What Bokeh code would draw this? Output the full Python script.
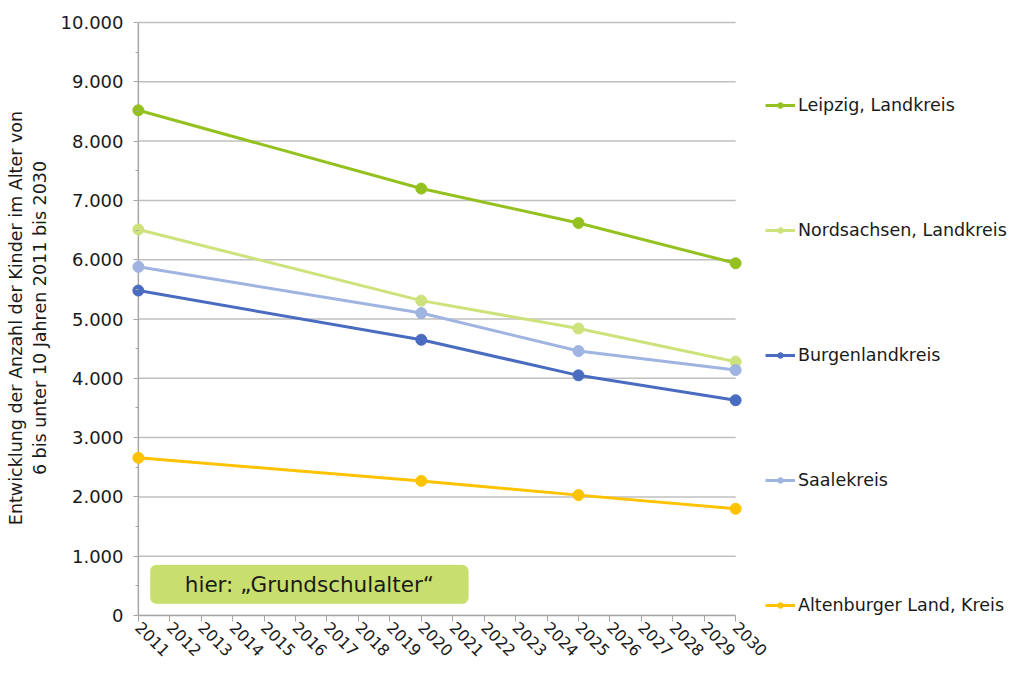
import math
from bokeh.plotting import figure
from bokeh.models import (Range1d, FixedTicker, CustomJSTickFormatter, Legend, LegendItem,
                          BoxAnnotation, Label)
from bokeh.embed import file_html
from bokeh.resources import INLINE

years_all = list(range(2011, 2031))
years = [2011, 2020, 2025, 2030]
series_names = ["Leipzig, Landkreis", "Nordsachsen, Landkreis", "Burgenlandkreis",
                "Saalekreis", "Altenburger Land, Kreis"]
leipzig = [8520, 7200, 6620, 5940]
nordsachsen = [6510, 5310, 4840, 4280]
burgenland = [5480, 4650, 4050, 3630]
saalekreis = [5880, 5100, 4460, 4140]
altenburg = [2660, 2270, 2030, 1800]
values = [leipzig, nordsachsen, burgenland, saalekreis, altenburg]
colors = ["#94c11f", "#cde27a", "#4a6cc0", "#9fb4e0", "#fdc300"]
y_ticks = list(range(0, 10001, 1000))
y_minor = list(range(500, 10000, 1000))
annotation_text = "hier: \u201eGrundschulalter\u201c"
y_label = "Entwicklung der Anzahl der Kinder im Alter von\n6 bis unter 10 Jahren 2011 bis 2030"

p = figure(frame_width=613, frame_height=595, output_backend="svg", toolbar_location=None,
           x_range=Range1d(2010.75, 2030.25), y_range=Range1d(0, 10034),
           min_border_left=130, min_border_right=267, min_border_top=20, min_border_bottom=58)
p.outline_line_color = None
p.xgrid.grid_line_color = None
p.ygrid.grid_line_color = None

# horizontal gridlines and y-axis line limited to the year span
p.segment(x0=years_all[0], x1=years_all[-1], y0=y_ticks, y1=y_ticks,
          line_color="#bfbfbf", line_width=1.5, level="underlay")
p.segment(x0=[years_all[0]], x1=[years_all[0]], y0=[y_ticks[0]], y1=[y_ticks[-1]],
          line_color="#a6a6a6", line_width=1.5, level="underlay")

p.xaxis.ticker = FixedTicker(ticks=years_all)
p.xaxis.bounds = (years_all[0], years_all[-1])
p.xaxis.major_label_orientation = -math.pi / 4
p.xaxis.major_tick_out = 6
p.xaxis.major_tick_in = 0
p.xaxis.minor_tick_line_color = None
p.xaxis.axis_line_color = "#a6a6a6"
p.xaxis.axis_line_width = 1.5
p.xaxis.major_tick_line_color = "#a6a6a6"
p.xaxis.major_label_text_font = "DejaVu Sans"
p.xaxis.major_label_text_font_size = "16px"
p.xaxis.major_label_text_color = "#1a1a1a"
p.xaxis.major_label_standoff = 3

p.yaxis.ticker = FixedTicker(ticks=y_ticks, minor_ticks=y_minor)
p.yaxis.formatter = CustomJSTickFormatter(code="""
return String(Math.round(tick)).replace(/\\B(?=(\\d{3})+(?!\\d))/g, '.');
""")
p.yaxis.axis_line_color = None
p.yaxis.major_tick_out = -3
p.yaxis.major_tick_in = 8
p.yaxis.minor_tick_out = -5
p.yaxis.minor_tick_in = 8
p.yaxis.major_tick_line_color = "#a6a6a6"
p.yaxis.minor_tick_line_color = "#a6a6a6"
p.yaxis.major_label_text_font = "DejaVu Sans"
p.yaxis.major_label_text_font_size = "18px"
p.yaxis.major_label_text_color = "#1a1a1a"
p.yaxis.major_label_standoff = 10
p.yaxis.axis_label = y_label
p.yaxis.axis_label_text_font = "DejaVu Sans"
p.yaxis.axis_label_text_font_size = "17.5px"
p.yaxis.axis_label_text_font_style = "normal"
p.yaxis.axis_label_text_color = "#1a1a1a"
p.yaxis.axis_label_standoff = 8

box = BoxAnnotation(left=2011.38, right=2021.5, bottom=200, top=850,
                    fill_color="#c8df6e", fill_alpha=1, line_color="#c8df6e",
                    border_radius=6, level="overlay")
p.add_layout(box)
lbl = Label(x=(2011.38 + 2021.5) / 2, y=525, text=annotation_text, text_align="center",
            text_baseline="middle", text_font="DejaVu Sans", text_font_size="21.5px",
            text_color="#1a1a1a", level="overlay")
p.add_layout(lbl)

items = []
for name, vals, col in zip(series_names, values, colors):
    r1 = p.line(years, vals, line_color=col, line_width=3)
    r2 = p.scatter(years, vals, marker="circle", size=11, fill_color=col, line_color=col)
    items.append(LegendItem(label=name, renderers=[r1, r2]))

legend = Legend(items=items, location=(22, 0), orientation="vertical",
                spacing=105, glyph_width=30, glyph_height=14, label_height=14,
                label_standoff=3, padding=0, margin=0,
                label_text_font="DejaVu Sans", label_text_font_size="17.5px",
                label_text_color="#1a1a1a", border_line_color=None,
                background_fill_alpha=0)
p.add_layout(legend, "right")

open("out.html", "w").write(file_html(p, INLINE))
